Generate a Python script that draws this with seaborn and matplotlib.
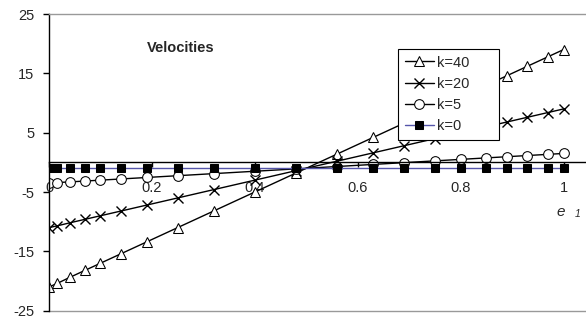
import matplotlib
matplotlib.use("Agg")
import matplotlib.pyplot as plt
import seaborn as sns
import pandas as pd

# ---- data ----
e1 = [0.0, 0.016, 0.04, 0.07, 0.10, 0.14, 0.19, 0.25, 0.32, 0.40, 0.48,
      0.56, 0.63, 0.69, 0.75, 0.80, 0.85, 0.89, 0.93, 0.97, 1.00]
k40 = [-21.0, -20.4, -19.4, -18.2, -17.0, -15.4, -13.4, -11.0, -8.2, -5.0, -1.8,
       1.4, 4.2, 6.6, 9.0, 11.0, 13.0, 14.6, 16.2, 17.8, 19.0]
k20 = [-11.0, -10.7, -10.2, -9.6, -9.0, -8.2, -7.2, -6.0, -4.6, -3.0, -1.4,
       0.2, 1.6, 2.8, 4.0, 5.0, 6.0, 6.8, 7.6, 8.4, 9.0]
k5 = [-3.5, -3.4, -3.3, -3.15, -3.0, -2.8, -2.55, -2.25, -1.9, -1.5, -1.1,
      -0.7, -0.35, -0.05, 0.25, 0.5, 0.75, 0.95, 1.15, 1.35, 1.5]
k0 = [-1.0] * 21
series_names = ["k=40", "k=20", "k=5", "k=0"]
y_ticks = [-25, -15, -5, 5, 15, 25]
x_ticks = [0, 0.2, 0.4, 0.6, 0.8, 1]
x_tick_labels = ["0", "0.2", "0.4", "0.6", "0.8", "1"]
title_text = "Velocities"

df = pd.DataFrame({"e1": e1, "k=40": k40, "k=20": k20, "k=5": k5, "k=0": k0})

sns.set_style("white")
plt.rcParams["font.family"] = ["Liberation Sans", "DejaVu Sans"]

fig = plt.figure(figsize=(5.86, 3.25), dpi=100)
ax = fig.add_axes([49 / 586, 1 - 310.7 / 325, 1 - 49 / 586, (310.7 - 14) / 325])

styles = {
    "k=40": dict(marker="^", color="black", markerfacecolor="white", markeredgecolor="black", markersize=7.5),
    "k=20": dict(marker="x", color="black", markeredgecolor="black", markersize=7, markeredgewidth=1),
    "k=5": dict(marker="o", color="black", markerfacecolor="white", markeredgecolor="black", markersize=7),
    "k=0": dict(marker="s", color="#5555aa", markerfacecolor="black", markeredgecolor="black", markersize=6),
}
for name in series_names:
    sns.lineplot(data=df, x="e1", y=name, ax=ax, label=name, sort=False,
                 estimator=None, linewidth=1, **styles[name])

ax.set_xlim(0, 1.0437)
ax.set_ylim(-25, 25)
ax.set_yticks(y_ticks)
ax.set_yticklabels([str(v) for v in y_ticks])
ax.set_xticks(x_ticks)
ax.set_xticklabels(x_tick_labels)
ax.set_xlabel("")
ax.set_ylabel("")
ax.set_axisbelow(True)

ax.spines["bottom"].set_position(("data", 0))
ax.spines["bottom"].set_color("black")
ax.spines["bottom"].set_linewidth(1)
ax.spines["left"].set_color("black")
ax.spines["left"].set_linewidth(1)
ax.spines["top"].set_color("#999999")
ax.spines["top"].set_linewidth(1)
ax.spines["right"].set_visible(False)
ax.axhline(-25, color="#999999", lw=1, clip_on=False, zorder=0.5)

ax.tick_params(axis="y", direction="out", length=4.5, width=1, color="black",
               labelsize=10.5, pad=6, left=True)
ax.tick_params(axis="x", direction="out", length=3.5, width=1, color="black",
               labelsize=10.5, pad=10, bottom=True)

leg = ax.legend(loc="upper left", bbox_to_anchor=(0.650, 0.5, 0.188, 0.382),
                mode="expand", borderaxespad=0,
                frameon=True, fancybox=False, framealpha=1, edgecolor="black",
                fontsize=10.5, handlelength=2.0, handletextpad=0.25,
                labelspacing=0.5, borderpad=0.45)
leg.get_frame().set_linewidth(0.8)

fig.text(181 / 586, 1 - 48 / 325, title_text, fontsize=10.5, fontweight="bold",
         ha="center", va="center")
fig.text(561 / 586, 1 - 212 / 325, "e", fontsize=11, fontstyle="italic",
         ha="center", va="center")
fig.text(578 / 586, 1 - 214 / 325, "1", fontsize=7.5, fontstyle="italic",
         ha="center", va="center")

fig.savefig("out.png", dpi=100)
